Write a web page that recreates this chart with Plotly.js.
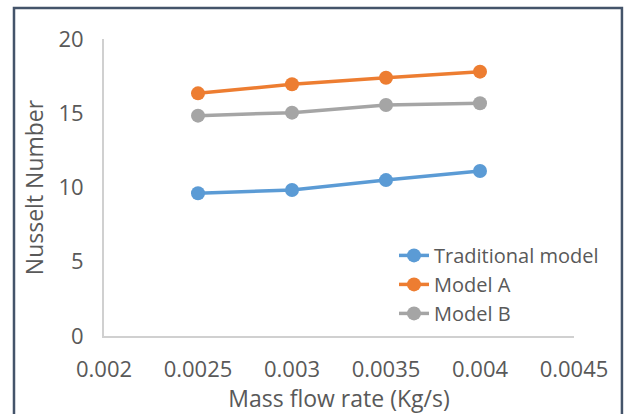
<!DOCTYPE html>
<html>
<head>
<meta charset="utf-8">
<script src="https://cdn.plot.ly/plotly-3.0.1.min.js"></script>
<style>
html,body{margin:0;padding:0;background:#fff;}
#chart{width:625px;height:414px;}
</style>
</head>
<body>
<div id="chart"></div>
<script>
const massFlow = [0.0025, 0.003, 0.0035, 0.004];
const traditionalModel = [9.61, 9.83, 10.5, 11.11];
const modelA = [16.34, 16.95, 17.39, 17.80];
const modelB = [14.84, 15.04, 15.56, 15.67];
const seriesNames = ["Traditional model", "Model A", "Model B"];
const xTicks = [0.002, 0.0025, 0.003, 0.0035, 0.004, 0.0045];
const xTickLabels = ["0.002", "0.0025", "0.003", "0.0035", "0.004", "0.0045"];
const yTicks = [0, 5, 10, 15, 20];

const colors = ["#5B9BD5", "#ED7D31", "#A5A5A5"];
const seriesValues = [traditionalModel, modelA, modelB];

const traces = seriesValues.map((vals, i) => ({
  x: massFlow,
  y: vals,
  name: seriesNames[i],
  type: "scatter",
  mode: "lines+markers",
  line: {color: colors[i], width: 3.5},
  marker: {color: colors[i], size: 14}
}));

const textColor = "#595959";
const font = "'Open Sans', sans-serif";

const layout = {
  width: 625,
  height: 414,
  margin: {l: 104, r: 51, t: 39, b: 78},
  paper_bgcolor: "#fff",
  plot_bgcolor: "#fff",
  showlegend: true,
  font: {family: font, color: textColor, size: 20},
  xaxis: {
    range: [0.002, 0.0045],
    tickvals: xTicks,
    ticktext: xTickLabels,
    showgrid: false,
    zeroline: false,
    showline: true,
    linecolor: "#D0D0D0",
    linewidth: 2,
    ticks: "",
    ticklabelstandoff: 13,
    tickfont: {family: font, size: 22, color: textColor},
    title: {text: "Mass flow rate (Kg/s)", font: {family: font, size: 23, color: textColor}, standoff: 2}
  },
  yaxis: {
    range: [0, 20],
    tickvals: yTicks,
    showgrid: false,
    zeroline: false,
    showline: true,
    linecolor: "#D0D0D0",
    linewidth: 2,
    ticks: "",
    ticklabelstandoff: 14,
    tickfont: {family: font, size: 22, color: textColor},
    title: {text: "Nusselt Number", font: {family: font, size: 23, color: textColor}, standoff: 8}
  },
  legend: {
    x: 0.617,
    y: 0.337,
    xanchor: "left",
    yanchor: "top",
    bgcolor: "rgba(0,0,0,0)",
    font: {family: font, size: 20, color: textColor},
    tracegroupgap: 0,
    itemwidth: 30
  },
  shapes: [{
    type: "rect",
    xref: "paper",
    yref: "paper",
    x0: -0.1915,
    x1: 1.102,
    y0: -0.4,
    y1: 1.104,
    line: {color: "#44546A", width: 2.5},
    fillcolor: "rgba(0,0,0,0)",
    layer: "below"
  }]
};

Plotly.newPlot("chart", traces, layout, {displayModeBar: false, staticPlot: true});
</script>
</body>
</html>
